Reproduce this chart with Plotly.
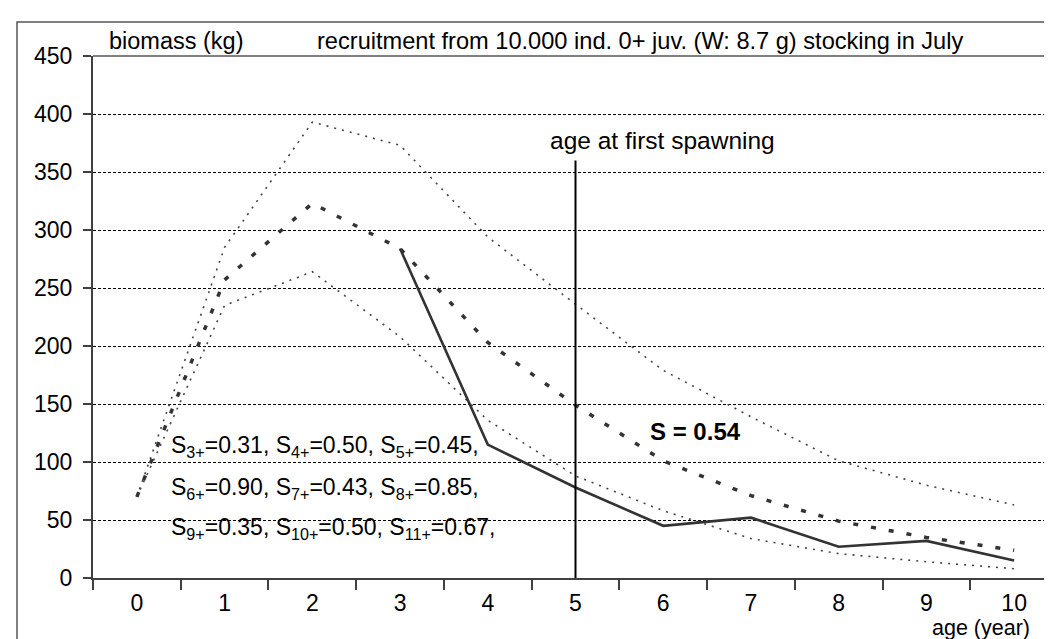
import plotly.graph_objects as go

# ---- data ----
ages = ["0", "1", "2", "3", "4", "5", "6", "7", "8", "9", "10"]
upper_bound = [70, 285, 393, 373, 294, 236, 179, 139, 101, 80, 63]
mean_s054 = [70, 257, 323, 284, 203, 149, 101, 71, 49, 35, 24]
lower_bound = [70, 235, 264, 208, 136, 88, 58, 34, 21, 14, 8]
observed_ages = ["3", "4", "5", "6", "7", "8", "9", "10"]
observed = [284, 115, 78, 45, 52, 27, 32, 15]
spawn_age = ["5", "5"]
spawn_line = [0, 360]
y_ticks = [0, 50, 100, 150, 200, 250, 300, 350, 400, 450]

FONT = "Liberation Sans, Arial, sans-serif"
W, H = 1052, 639
L, R, T, B = 85, 2, 48, 69
PW, PH = W - L - R, H - T - B


def px(x):
    return (x - L) / PW


def py(y):
    return (H - B - y) / PH


fig = go.Figure()

fig.add_trace(go.Scatter(x=ages, y=upper_bound, mode="lines",
                         line=dict(color="#444", width=1.6, dash="2px,6px"),
                         showlegend=False))
fig.add_trace(go.Scatter(x=ages, y=lower_bound, mode="lines",
                         line=dict(color="#444", width=1.6, dash="2px,6px"),
                         showlegend=False))
fig.add_trace(go.Scatter(x=ages, y=mean_s054, mode="lines",
                         line=dict(color="#333", width=3.5, dash="5px,13px"),
                         showlegend=False))
fig.add_trace(go.Scatter(x=observed_ages, y=observed, mode="lines",
                         line=dict(color="#333", width=2.6),
                         showlegend=False))
fig.add_trace(go.Scatter(x=spawn_age, y=spawn_line, mode="lines",
                         line=dict(color="#000", width=2),
                         showlegend=False))

fig.update_layout(
    width=W, height=H,
    margin=dict(l=L, r=R, t=T, b=B),
    paper_bgcolor="white", plot_bgcolor="white",
    font=dict(family=FONT, size=23, color="#000"),
    xaxis=dict(type="category", categoryorder="array", categoryarray=ages,
               range=[-0.5, 10.5],
               tickson="boundaries", ticks="outside", ticklen=10,
               tickwidth=1.5, tickcolor="#404040",
               showline=True, linecolor="#404040", linewidth=2,
               showgrid=False, zeroline=False,
               ticklabelstandoff=3,
               tickfont=dict(size=23)),
    yaxis=dict(range=[0, 450], tickvals=y_ticks, ticks="outside", ticklen=8,
               tickwidth=1.5, tickcolor="#404040",
               showline=True, linecolor="#404040", linewidth=2,
               showgrid=True, gridcolor="#000", gridwidth=1,
               griddash="3px,2px", zeroline=False,
               ticklabelstandoff=6,
               tickfont=dict(size=23)),
)

# plot area top/right border (grey)
fig.add_shape(type="line", xref="paper", yref="paper", x0=0, x1=1, y0=1, y1=1,
              line=dict(color="#808080", width=2))
fig.add_shape(type="line", xref="paper", yref="paper", x0=1, x1=1, y0=0, y1=1,
              line=dict(color="#808080", width=2))
# outer chart frame
fig.add_shape(type="rect", xref="paper", yref="paper",
              x0=px(9), x1=px(1080), y0=py(660), y1=py(14),
              line=dict(color="#555", width=1.5), layer="below")

ann = [
    ("biomass (kg)", 100, 33, 23.5),
    ("recruitment from 10.000 ind. 0+ juv. (W: 8.7 g) stocking in July", 308, 33, 23.6),
    ("age at first spawning", 541, 132, 24.5),
    ("age (year)", 923, 620, 21.5),
    ("<b>S = 0.54</b>", 641, 423, 24),
    ("S<sub>3+</sub>=0.31, S<sub>4+</sub>=0.50, S<sub>5+</sub>=0.45,", 162, 438, 23),
    ("S<sub>6+</sub>=0.90, S<sub>7+</sub>=0.43, S<sub>8+</sub>=0.85,", 162, 480, 23),
    ("S<sub>9+</sub>=0.35, S<sub>10+</sub>=0.50, S<sub>11+</sub>=0.67,", 162, 520, 23),
]
for text, x, y, size in ann:
    fig.add_annotation(text=text, xref="paper", yref="paper", x=px(x), y=py(y),
                       xanchor="left", yanchor="middle", showarrow=False,
                       borderpad=0,
                       font=dict(family=FONT, size=size, color="#000"))

fig.write_html("out.html")
